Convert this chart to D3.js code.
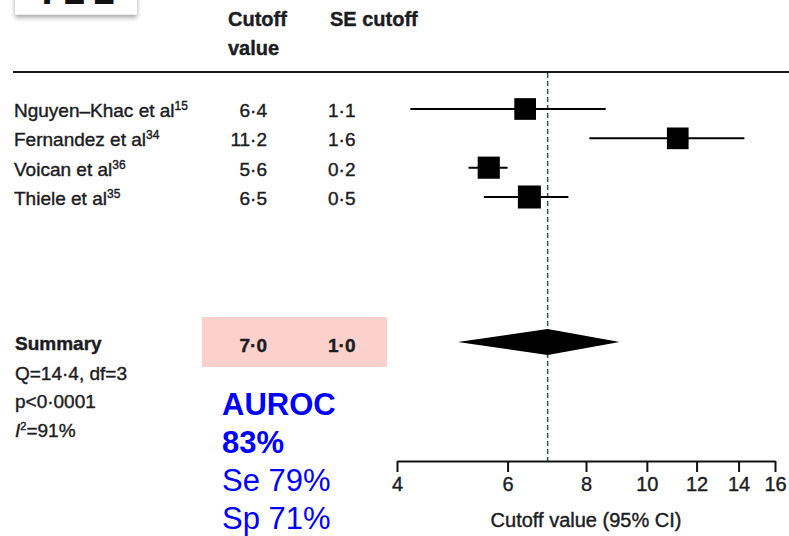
<!DOCTYPE html>
<html>
<head>
<meta charset="utf-8">
<script src="https://cdn.jsdelivr.net/npm/d3@7"></script>
<style>
  body { margin: 0; background: #fff; }
  text { font-family: "Liberation Sans", Arial, sans-serif; fill: #1c1c22; }
  .lan { stroke: #1c1c22; stroke-width: 0.4px; }
</style>
</head>
<body>
<div id="main"></div>
<script>
  // studies in the forest plot
  var studies = ["Nguyen\u2013Khac et al", "Fernandez et al", "Voican et al", "Thiele et al"];
  var refs = ["15", "34", "36", "35"];
  var cutoff = [6.4, 11.2, 5.6, 6.5];
  var seCutoff = [1.1, 1.6, 0.2, 0.5];
  var ciLow = [4.2, 8.1, 5.2, 5.5];
  var ciHigh = [8.6, 14.3, 6.0, 7.5];
  var weights = [24, 24, 25, 27];

  // pooled result
  var summaryLabel = ["7.0", "1.0"];
  var summaryEst = 6.95;
  var summaryLow = 5.0;
  var summaryHigh = 9.05;
  var statLines = ["Q=14\u00b74, df=3", "p<0\u00b70001", "=91%"];
  var blueLines = ["AUROC", "83%", "Se 79%", "Sp 71%"];

  var tickVals = [4, 6, 8, 10, 12, 14, 16];

  var dot = function(s) { return s.replace(".", "\u00b7"); };
  var fmt = d3.format(".1f");

  var svg = d3.select("#main").append("svg")
      .attr("width", 789)
      .attr("height", 536);

  var defs = svg.append("defs");
  var shadow = defs.append("filter").attr("id", "shadow")
      .attr("x", "-20%").attr("y", "-50%").attr("width", "140%").attr("height", "250%");
  shadow.append("feDropShadow")
      .attr("dx", 0).attr("dy", 3).attr("stdDeviation", 2.5)
      .attr("flood-color", "#000").attr("flood-opacity", 0.35);

  // cropped slide label at top left (only its bottom edge is in view)
  svg.append("rect")
      .attr("x", 15).attr("y", -20)
      .attr("width", 122).attr("height", 34.5)
      .attr("fill", "#fff")
      .attr("filter", "url(#shadow)");
  svg.append("text")
      .attr("x", 35).attr("y", 4)
      .style("font-family", "'DejaVu Sans Mono', monospace")
      .style("font-weight", "bold")
      .style("font-size", "40px")
      .style("letter-spacing", "4px")
      .style("fill", "#111")
      .text("T21");

  var x = d3.scaleLog().domain([4, 16]).range([397, 775]);
  var y = d3.scalePoint().domain(studies).range([109, 197]);
  var size = d3.scaleSqrt().domain([0, 27]).range([0, 23]);
  var summaryY = 342;

  // header
  svg.append("text").attr("class", "lan").attr("x", 228).attr("y", 26)
      .style("font-size", "20px").style("font-weight", "bold").text("Cutoff");
  svg.append("text").attr("class", "lan").attr("x", 228).attr("y", 55)
      .style("font-size", "20px").style("font-weight", "bold").text("value");
  svg.append("text").attr("class", "lan").attr("x", 330).attr("y", 26)
      .style("font-size", "20px").style("font-weight", "bold").text("SE cutoff");

  svg.append("line")
      .attr("x1", 13).attr("x2", 789)
      .attr("y1", 72).attr("y2", 72)
      .attr("stroke", "#1a1a1a")
      .attr("stroke-width", 2);

  // summary highlight
  svg.append("rect")
      .attr("x", 202).attr("y", 317)
      .attr("width", 185).attr("height", 50)
      .attr("fill", "#fdd1cb");

  // vertical reference line at pooled estimate
  svg.append("line")
      .attr("x1", x(summaryEst)).attr("x2", x(summaryEst))
      .attr("y1", 73).attr("y2", 461)
      .attr("stroke", "#34505e")
      .attr("stroke-width", 1.5)
      .attr("stroke-dasharray", "5,3");

  // study rows
  studies.forEach(function(s, i) {
    var cy = y(s);
    var t = svg.append("text").attr("class", "lan").attr("x", 14).attr("y", cy + 8)
        .style("font-size", "19px");
    t.append("tspan").text(s);
    t.append("tspan").attr("dy", -7).style("font-size", "12px").text(refs[i]);

    svg.append("text").attr("class", "lan").attr("x", 267).attr("y", cy + 8)
        .attr("text-anchor", "end")
        .style("font-size", "19px")
        .text(dot(fmt(cutoff[i])));
    svg.append("text").attr("class", "lan").attr("x", 328).attr("y", cy + 8)
        .style("font-size", "19px")
        .text(dot(fmt(seCutoff[i])));

    svg.append("line")
        .attr("x1", x(ciLow[i])).attr("x2", x(ciHigh[i]))
        .attr("y1", cy).attr("y2", cy)
        .attr("stroke", "#000")
        .attr("stroke-width", 2);
    var w = size(weights[i]);
    svg.append("rect")
        .attr("x", x(cutoff[i]) - w / 2).attr("y", cy - w / 2)
        .attr("width", w).attr("height", w)
        .attr("fill", "#000");
  });

  // summary row
  svg.append("text").attr("class", "lan").attr("x", 15).attr("y", 350)
      .style("font-size", "19px").style("font-weight", "bold").text("Summary");
  svg.append("text").attr("class", "lan").attr("x", 15).attr("y", 380)
      .style("font-size", "19px").text(statLines[0]);
  svg.append("text").attr("class", "lan").attr("x", 15).attr("y", 408)
      .style("font-size", "19px").text(statLines[1]);
  var i2 = svg.append("text").attr("class", "lan").attr("x", 15).attr("y", 437).style("font-size", "19px");
  i2.append("tspan").style("font-style", "italic").text("I");
  i2.append("tspan").attr("dy", -7).style("font-size", "11px").text("2");
  i2.append("tspan").attr("dy", 7).text(statLines[2]);

  svg.append("text").attr("class", "lan").attr("x", 267).attr("y", 352)
      .attr("text-anchor", "end")
      .style("font-size", "19px").style("font-weight", "bold")
      .text(dot(summaryLabel[0]));
  svg.append("text").attr("class", "lan").attr("x", 328).attr("y", 352)
      .style("font-size", "19px").style("font-weight", "bold")
      .text(dot(summaryLabel[1]));

  svg.append("path")
      .attr("d", d3.line()([
        [x(summaryLow), summaryY],
        [x(summaryEst), summaryY - 13],
        [x(summaryHigh), summaryY],
        [x(summaryEst), summaryY + 13]
      ]) + "Z")
      .attr("fill", "#000");

  // blue annotation
  blueLines.forEach(function(s, i) {
    svg.append("text")
        .attr("x", 222).attr("y", 415 + i * 38)
        .style("font-size", "31px")
        .style("font-weight", i < 2 ? "bold" : "normal")
        .style("fill", "#0000ff")
        .text(s);
  });

  // x axis
  var axis = svg.append("g")
      .attr("transform", "translate(0,461)")
      .call(d3.axisBottom(x).tickValues(tickVals).tickSize(11).tickSizeOuter(0)
        .tickFormat(d3.format("d")).tickPadding(5));
  axis.select(".domain").attr("stroke", "#111").attr("stroke-width", 2);
  axis.selectAll(".tick line").attr("stroke", "#111").attr("stroke-width", 2);
  axis.selectAll(".tick text")
      .attr("class", "lan")
      .style("font-family", "'Liberation Sans', Arial, sans-serif")
      .style("font-size", "20px")
      .attr("fill", "#1c1c30");

  svg.append("text").attr("class", "lan")
      .attr("x", 586).attr("y", 527)
      .attr("text-anchor", "middle")
      .style("font-size", "20px")
      .text("Cutoff value (95% CI)");
</script>
</body>
</html>
